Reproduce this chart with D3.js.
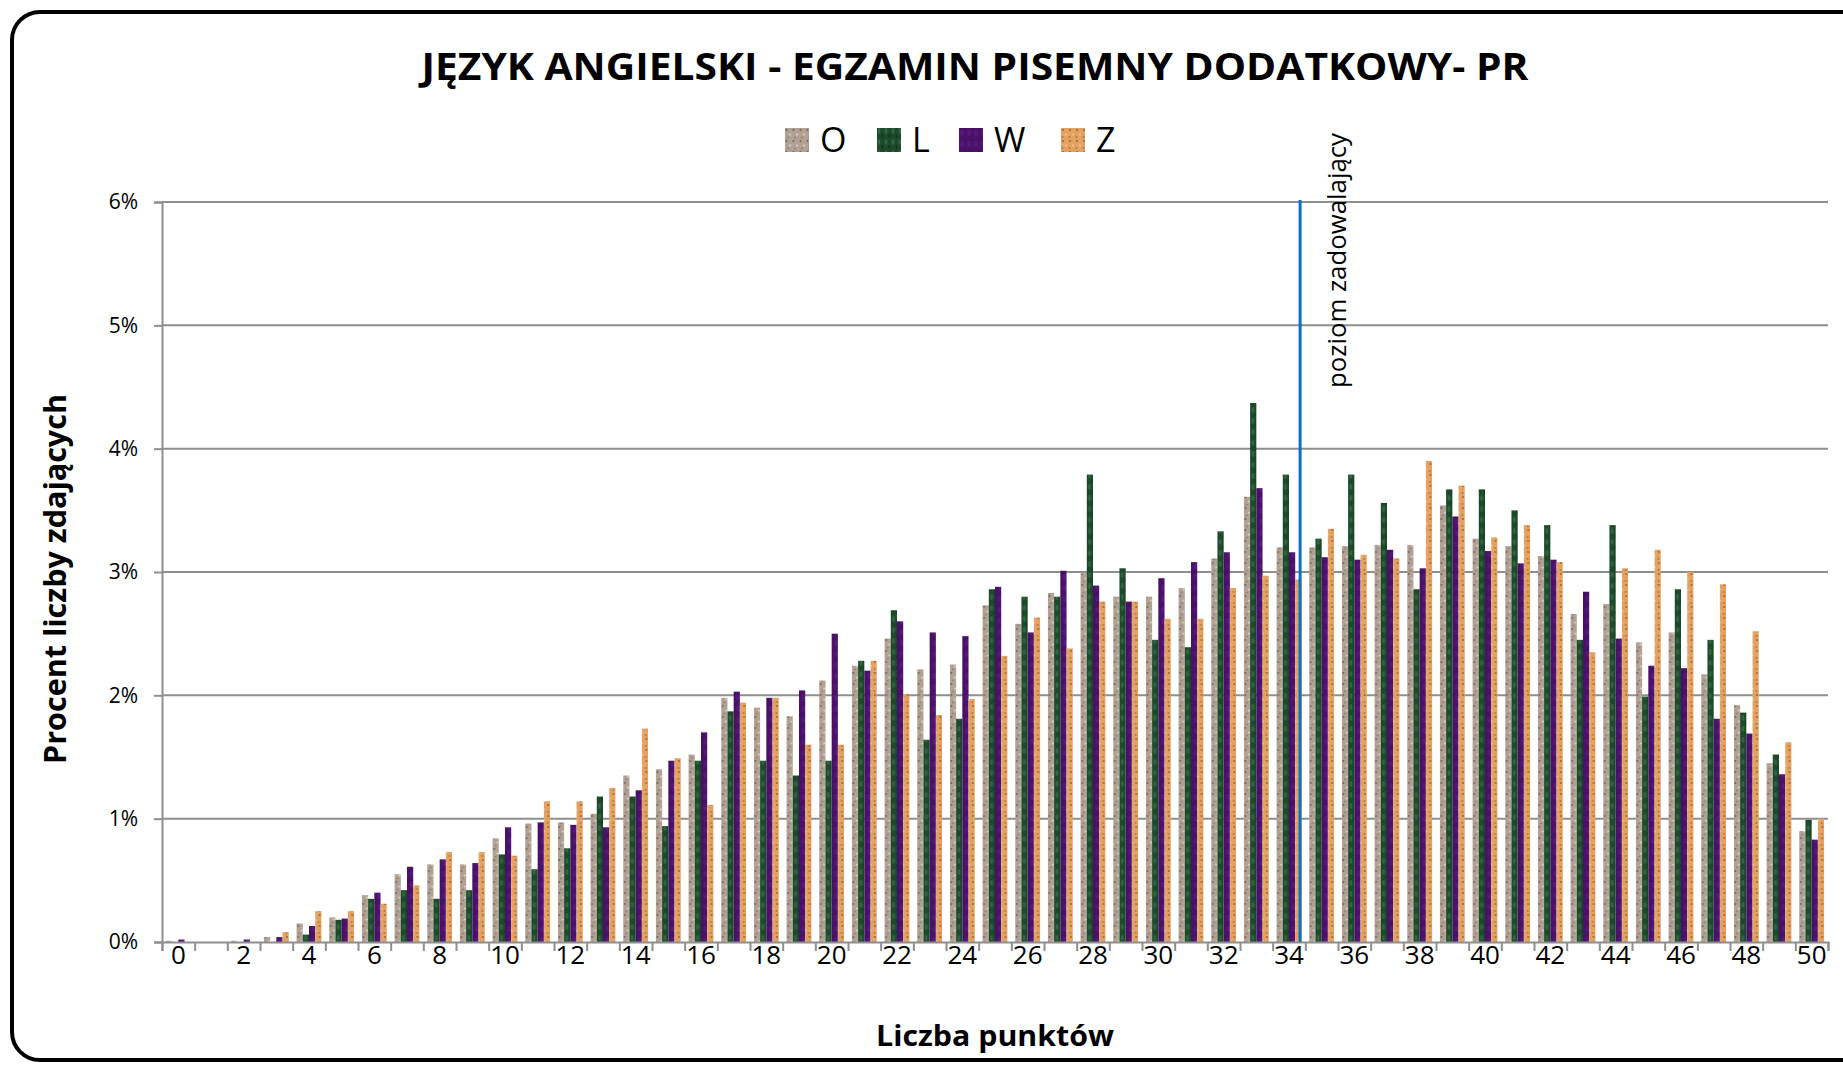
<!DOCTYPE html>
<html>
<head>
<meta charset="utf-8">
<script src="https://cdn.jsdelivr.net/npm/d3@7"></script>
<style>
  body { margin: 0; background: #fff; }
  text { font-family: "Open Sans", sans-serif; }
</style>
</head>
<body>
<div id="chart"></div>
<script>
let W = 1843, H = 1066
let plot = {left: 162, right: 1828, top: 202, bottom: 942}

const categories = d3.range(0, 51)
const xTickLabels = categories.filter(d => d % 2 === 0)
const yTicks = [0, 1, 2, 3, 4, 5, 6]
const seriesNames = ["O", "L", "W", "Z"]

// percent of candidates per score
const seriesO = [0.01, 0, 0.01, 0.04, 0.15, 0.20, 0.38, 0.55, 0.63, 0.63, 0.84, 0.96, 0.97, 1.04, 1.35, 1.40, 1.52, 1.98, 1.90, 1.83,
                 2.12, 2.24, 2.46, 2.21, 2.25, 2.73, 2.58, 2.83, 2.99, 2.80, 2.80, 2.87, 3.11, 3.61, 3.20, 3.20, 3.21, 3.22, 3.22, 3.54,
                 3.27, 3.21, 3.13, 2.66, 2.74, 2.43, 2.51, 2.17, 1.92, 1.45, 0.90]
const seriesL = [0, 0, 0, 0, 0.06, 0.18, 0.35, 0.42, 0.35, 0.42, 0.71, 0.59, 0.76, 1.18, 1.18, 0.94, 1.47, 1.87, 1.47, 1.35,
                 1.47, 2.28, 2.69, 1.64, 1.81, 2.86, 2.80, 2.80, 3.79, 3.03, 2.45, 2.39, 3.33, 4.37, 3.79, 3.27, 3.79, 3.56, 2.86, 3.67,
                 3.67, 3.50, 3.38, 2.45, 3.38, 1.99, 2.86, 2.45, 1.86, 1.52, 0.99]
const seriesW = [0.02, 0, 0.02, 0.04, 0.13, 0.19, 0.40, 0.61, 0.67, 0.64, 0.93, 0.97, 0.95, 0.93, 1.23, 1.47, 1.70, 2.03, 1.98, 2.04,
                 2.50, 2.20, 2.60, 2.51, 2.48, 2.88, 2.51, 3.01, 2.89, 2.76, 2.95, 3.08, 3.16, 3.68, 3.16, 3.12, 3.10, 3.18, 3.03, 3.45,
                 3.17, 3.07, 3.10, 2.84, 2.46, 2.24, 2.22, 1.81, 1.69, 1.36, 0.83]
const seriesZ = [0, 0, 0, 0.08, 0.25, 0.25, 0.31, 0.46, 0.73, 0.73, 0.70, 1.14, 1.14, 1.25, 1.73, 1.49, 1.11, 1.94, 1.98, 1.60,
                 1.60, 2.28, 2.01, 1.84, 1.97, 2.32, 2.63, 2.38, 2.76, 2.76, 2.62, 2.62, 2.87, 2.97, 2.94, 3.35, 3.14, 3.11, 3.90, 3.70,
                 3.28, 3.38, 3.08, 2.35, 3.03, 3.18, 3.00, 2.90, 2.52, 1.62, 1.00]
// position of the "poziom zadowalający" marker on the score axis
const satisfactoryLevel = 34.84

const seriesValues = [seriesO, seriesL, seriesW, seriesZ]

let svg = d3.select("#chart")
            .append("svg")
            .attr("width", W)
            .attr("height", H)

// textured fills, roughly like the Excel ones
let defs = svg.append("defs")
function addPattern(id, base, specks) {
    let p = defs.append("pattern")
                .attr("id", id)
                .attr("patternUnits", "userSpaceOnUse")
                .attr("width", 7)
                .attr("height", 11)
    p.append("rect").attr("width", 7).attr("height", 11).attr("fill", base)
    specks.forEach(function(s) {
        p.append("ellipse")
         .attr("cx", s[0]).attr("cy", s[1]).attr("rx", s[2]).attr("ry", s[3])
         .attr("fill", s[4]).attr("opacity", s[5])
    })
}
addPattern("pO", "#b1a295", [[1.5, 2, 1, 1.3, "#6e5e52", 0.8], [5, 6.5, 1.2, 1, "#ddd3c8", 0.9], [3, 9.5, 0.9, 0.9, "#7f6d60", 0.7]])
addPattern("pL", "#1d4a2a", [[2, 3, 1.4, 3, "#3f7a52", 0.6], [5.5, 8, 1, 2, "#0c2e17", 0.8]])
addPattern("pW", "#4a1169", [[3, 5, 2, 3, "#5e1c85", 0.6], [6, 1, 1, 1, "#360a50", 0.7]])
addPattern("pZ", "#e3a263", [[2, 2, 1, 1, "#9b5a22", 0.9], [5, 6.5, 1.2, 1, "#f5c793", 0.8], [1.5, 9, 0.9, 0.9, "#a8662e", 0.8]])
const fills = {O: "url(#pO)", L: "url(#pL)", W: "url(#pW)", Z: "url(#pZ)"}

// outer frame
svg.append("rect")
   .attr("x", 12).attr("y", 12)
   .attr("width", 1870).attr("height", 1048)
   .attr("rx", 28)
   .attr("fill", "none")
   .attr("stroke", "#000")
   .attr("stroke-width", 4)

// scales
let x = d3.scaleBand()
          .domain(categories)
          .range([plot.left, plot.right])
          .paddingInner(0.24)
          .paddingOuter(0.12)
let xs = d3.scaleBand()
           .domain(seriesNames)
           .range([0, x.bandwidth()])
let xEdge = d3.scaleLinear()
              .domain([0, categories.length])
              .range([plot.left, plot.right])
let y = d3.scaleLinear()
          .domain([0, 6])
          .range([plot.bottom, plot.top])

// gridlines
svg.append("g")
   .selectAll("line")
   .data(yTicks.slice(1))
   .enter()
   .append("line")
   .attr("x1", plot.left)
   .attr("x2", plot.right)
   .attr("y1", d => y(d))
   .attr("y2", d => y(d))
   .attr("stroke", "#8e8e8e")
   .attr("stroke-width", 2)

// bars
let rows = categories.map(function(c, i) {
    return {cat: c, vals: seriesNames.map((s, j) => ({key: s, v: seriesValues[j][i]}))}
})
let groups = svg.append("g")
                .selectAll("g")
                .data(rows)
                .enter()
                .append("g")
                .attr("transform", d => "translate(" + x(d.cat) + ",0)")
groups.selectAll("rect")
      .data(d => d.vals)
      .enter()
      .append("rect")
      .attr("x", d => xs(d.key))
      .attr("width", xs.bandwidth())
      .attr("y", d => y(d.v))
      .attr("height", d => y(0) - y(d.v))
      .attr("fill", d => fills[d.key])

// y axis
let yAxis = svg.append("g")
               .attr("transform", "translate(" + plot.left + ",0)")
               .call(d3.axisLeft(y).tickValues(yTicks).tickSize(8).tickPadding(16).tickFormat(d => d + "%"))
yAxis.select(".domain").attr("stroke", "#8e8e8e").attr("stroke-width", 2)
yAxis.selectAll(".tick line").attr("stroke", "#8e8e8e").attr("stroke-width", 2)
yAxis.selectAll("text").style("font-size", "21px").attr("fill", "#000")

// x axis: ticks between categories, labels on every second score
let xTicks = svg.append("g")
                .attr("transform", "translate(0," + plot.bottom + ")")
                .call(d3.axisBottom(xEdge).tickValues(d3.range(0, categories.length + 1)).tickSize(9).tickFormat(""))
xTicks.select(".domain").attr("stroke", "#8e8e8e").attr("stroke-width", 2)
xTicks.selectAll(".tick line").attr("stroke", "#8e8e8e").attr("stroke-width", 2)

let xLabels = svg.append("g")
                 .attr("transform", "translate(0," + plot.bottom + ")")
                 .call(d3.axisBottom(x).tickValues(xTickLabels).tickSize(0).tickPadding(4))
xLabels.select(".domain").remove()
xLabels.selectAll("text").style("font-size", "26px").attr("fill", "#000")

// satisfactory level marker
svg.append("line")
   .attr("x1", xEdge(satisfactoryLevel))
   .attr("x2", xEdge(satisfactoryLevel))
   .attr("y1", plot.top - 2)
   .attr("y2", plot.bottom)
   .attr("stroke", "#0a72c4")
   .attr("stroke-width", 3)
svg.append("text")
   .attr("transform", "translate(" + (xEdge(satisfactoryLevel) + 46) + ",388) rotate(-90)")
   .attr("textLength", 255)
   .attr("lengthAdjust", "spacingAndGlyphs")
   .style("font-size", "25px")
   .text("poziom zadowalający")

// titles
svg.append("text")
   .attr("x", 975)
   .attr("y", 80)
   .attr("text-anchor", "middle")
   .attr("textLength", 1107)
   .attr("lengthAdjust", "spacingAndGlyphs")
   .style("font-size", "38px")
   .style("font-weight", "bold")
   .text("JĘZYK ANGIELSKI - EGZAMIN PISEMNY DODATKOWY- PR")

svg.append("text")
   .attr("x", 995)
   .attr("y", 1046)
   .attr("text-anchor", "middle")
   .attr("textLength", 238)
   .attr("lengthAdjust", "spacingAndGlyphs")
   .style("font-size", "29px")
   .style("font-weight", "bold")
   .text("Liczba punktów")

svg.append("text")
   .attr("transform", "translate(66,579) rotate(-90)")
   .attr("text-anchor", "middle")
   .attr("textLength", 370)
   .attr("lengthAdjust", "spacingAndGlyphs")
   .style("font-size", "30px")
   .style("font-weight", "bold")
   .text("Procent liczby zdających")

// legend
const legendX = [785, 877, 959, 1061]
let legend = svg.append("g")
                .selectAll("g")
                .data(seriesNames)
                .enter()
                .append("g")
                .attr("transform", (d, i) => "translate(" + legendX[i] + ",128)")
legend.append("rect")
      .attr("width", 24)
      .attr("height", 24)
      .attr("fill", d => fills[d])
legend.append("text")
      .attr("x", 35)
      .attr("y", 24)
      .style("font-size", "34px")
      .text(d => d)
</script>
</body>
</html>
